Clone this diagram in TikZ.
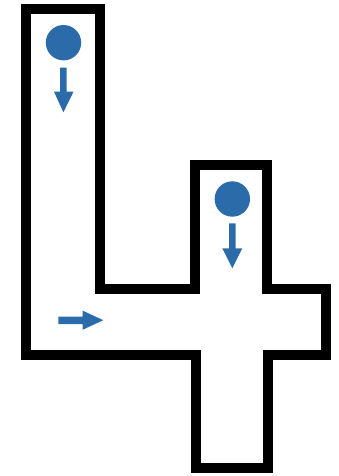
\documentclass[tikz,border=0pt]{standalone}
\definecolor{ballblue}{HTML}{2B6BAA}
\tikzset{
  wall/.style={draw=black,line width=10pt,miter limit=10,line join=miter},
  ball/.style={fill=ballblue,draw=none},
  flowarrow/.style={fill=ballblue,draw=none}
}
\begin{document}
\begin{tikzpicture}[x=1pt,y=-1pt]
\useasboundingbox (0,0) rectangle (338,476);
\draw[wall] (26.3,8.8) -- (100.3,8.8) -- (100.3,288.7) -- (195.4,288.7) -- (195.4,165) -- (267.4,165) -- (267.4,288.7) -- (325.5,288.7) -- (325.5,355.3) -- (267.6,355.3) -- (267.6,468.3) -- (195.5,468.3) -- (195.5,355.3) -- (26.3,355.3) -- cycle;
\fill[ball] (63.5,42.7) circle[radius=17.7];
\fill[ball] (232.3,199) circle[radius=17.7];
\fill[flowarrow] (60,67.7) -- (66.7,67.7) -- (66.7,91.7) -- (73.5,91.7) -- (63.4,112.3) -- (54,91.7) -- (60,91.7) -- cycle;
\fill[flowarrow] (229,223.3) -- (235.7,223.3) -- (235.7,248.3) -- (242.3,248.3) -- (232.3,268.3) -- (222.3,248.3) -- (229,248.3) -- cycle;
\fill[flowarrow] (58.3,316.7) -- (82.7,316.7) -- (82.7,310.7) -- (103.3,320.2) -- (82.7,329.7) -- (82.7,324) -- (58.3,324) -- cycle;
\end{tikzpicture}
\end{document}
